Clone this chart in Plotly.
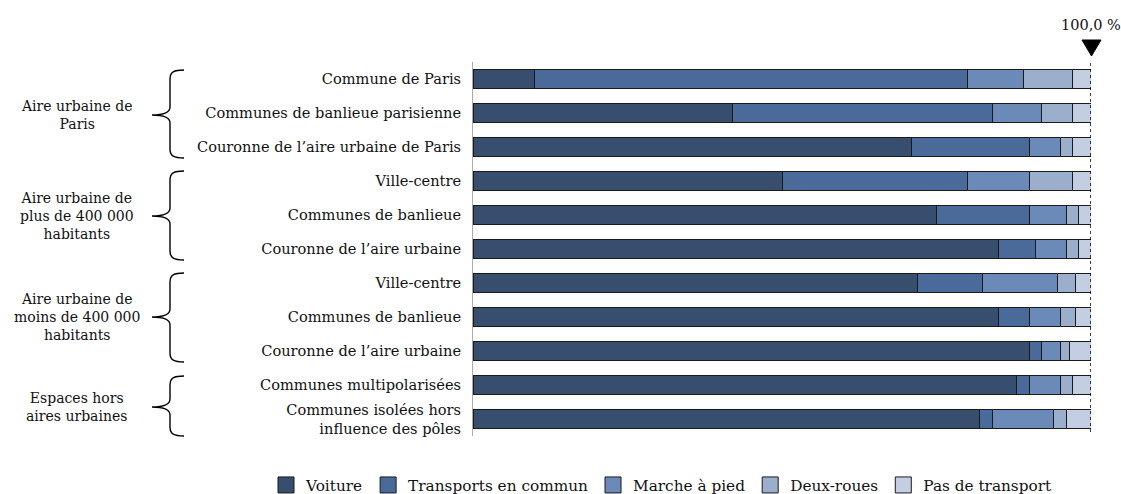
import plotly.graph_objects as go

categories = [
    "Commune de Paris",
    "Communes de banlieue parisienne",
    "Couronne de l’aire urbaine de Paris",
    "Ville-centre",
    "Communes de banlieue",
    "Couronne de l’aire urbaine",
    "Ville-centre",
    "Communes de banlieue",
    "Couronne de l’aire urbaine",
    "Communes multipolarisées",
    "Communes isolées hors<br>influence des pôles",
]
series_names = ["Voiture", "Transports en commun", "Marche à pied", "Deux-roues", "Pas de transport"]
voiture = [10, 42, 71, 50, 75, 85, 72, 85, 90, 88, 82]
transports = [70, 42, 19, 30, 15, 6, 10.5, 5, 2, 2, 2]
marche = [9, 8, 5, 10, 6, 5, 12, 5, 3, 5, 10]
deux_roues = [8, 5, 2, 7, 2, 2, 3, 2.5, 1.5, 2, 2]
pas_transport = [3, 3, 3, 3, 2, 2, 2.5, 2.5, 3.5, 3, 4]
groups = ["Aire urbaine de<br>Paris", "Aire urbaine de<br>plus de 400 000<br>habitants",
          "Aire urbaine de<br>moins de 400 000<br>habitants", "Espaces hors<br>aires urbaines"]
reference_label = "100,0 %"

colors = ["#374E6E", "#4A6B9A", "#6B8AB7", "#9BAFCD", "#C3CEE2"]
values = [voiture, transports, marche, deux_roues, pas_transport]
rows = list(range(len(categories)))

FONT = "DejaVu Serif"
W, H = 1121, 494
L, R, T, B = 473, 1091, 62, 436

def px(x):
    return (x - L) / (R - L)

def py(y):
    return (B - y) / (B - T)

fig = go.Figure()
for name, vals, col in zip(series_names, values, colors):
    fig.add_trace(go.Bar(
        y=rows, x=vals, name=name, orientation="h",
        marker=dict(color=col, line=dict(color="#1a1a1a", width=1)),
        width=0.58, showlegend=False, legendgroup=name,
    ))
for name, col in zip(series_names, colors):
    fig.add_trace(go.Scatter(
        x=[None], y=[None], mode="markers", name=name, legendgroup=name,
        marker=dict(symbol="square", size=16, color=col, line=dict(color="#1a1a1a", width=1)),
        showlegend=True, hoverinfo="skip",
    ))

shapes = []
shapes.append(dict(type="line", xref="x", yref="paper", x0=100, x1=100, y0=py(432), y1=py(60),
                   line=dict(color="black", width=1.5, dash="dot")))
tri = f"M {px(1082)},{py(40)} L {px(1101)},{py(40)} L {px(1091.5)},{py(56)} Z"
shapes.append(dict(type="path", xref="paper", yref="paper", path=tri,
                   fillcolor="black", line=dict(color="black", width=1)))

brace_spans = [(70, 158, 115), (171, 260, 216), (273, 362, 317), (376, 436, 407)]
for top, bot, tip in brace_spans:
    xe, xv, xt = 184, 170, 152
    p = (f"M {px(xe)},{py(top)} C {px(xv+4)},{py(top)} {px(xv)},{py(top+2)} {px(xv)},{py(top+9)} "
         f"L {px(xv)},{py(tip-8)} C {px(xv)},{py(tip-2)} {px(xv-6)},{py(tip)} {px(xt)},{py(tip)} "
         f"C {px(xv-6)},{py(tip)} {px(xv)},{py(tip+2)} {px(xv)},{py(tip+8)} "
         f"L {px(xv)},{py(bot-9)} C {px(xv)},{py(bot-2)} {px(xv+4)},{py(bot)} {px(xe)},{py(bot)}")
    shapes.append(dict(type="path", xref="paper", yref="paper", path=p,
                       line=dict(color="black", width=1.4)))

annotations = []
for g, (top, bot, tip) in zip(groups, brace_spans):
    annotations.append(dict(text=g, xref="paper", yref="paper", x=px(77), y=py(tip),
                            xanchor="center", yanchor="middle", showarrow=False,
                            font=dict(family=FONT, size=14, color="#111")))
annotations.append(dict(text=reference_label, xref="paper", yref="paper", x=px(1091), y=py(25),
                        xanchor="center", yanchor="middle", showarrow=False,
                        font=dict(family=FONT, size=14.5, color="#111")))

fig.update_layout(
    width=W, height=H,
    margin=dict(l=L, r=W - R, t=T, b=H - B, autoexpand=False),
    barmode="stack",
    plot_bgcolor="white", paper_bgcolor="white",
    font=dict(family=FONT, size=14.6, color="#111"),
    xaxis=dict(range=[0, 100], showgrid=False, zeroline=False, showticklabels=False,
               showline=False, fixedrange=True),
    yaxis=dict(tickmode="array", tickvals=rows, ticktext=categories,
               range=[len(categories) - 0.5, -0.5],
               showgrid=False, zeroline=False, showline=True, linecolor="#aaaaaa",
               linewidth=1, ticks="", ticklabelstandoff=8,
               tickfont=dict(family=FONT, size=14.6, color="#111")),
    legend=dict(orientation="h", x=px(266), y=py(485), xanchor="left", yanchor="middle",
                font=dict(family=FONT, size=15.3, color="#111"), traceorder="normal",
                itemwidth=30),
    shapes=shapes,
    annotations=annotations,
    showlegend=True,
)

fig.write_html("out.html", post_script="document.body.style.margin='0';",
               config={"displayModeBar": False})
